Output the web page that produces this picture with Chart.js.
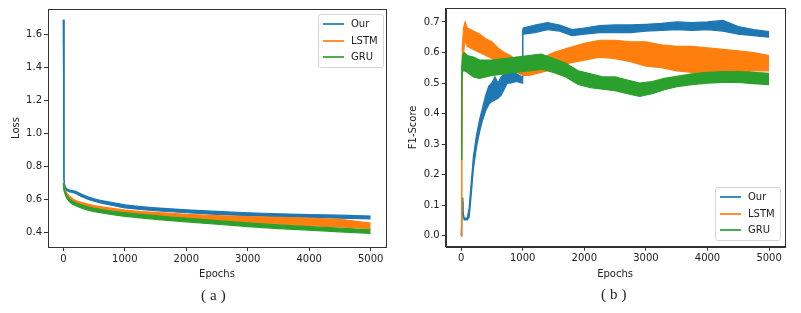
<!DOCTYPE html>
<html lang="en">
<head>
  <meta charset="UTF-8">
  <title>Loss and F1-Score curves</title>
  <script src="https://cdn.jsdelivr.net/npm/chart.js"></script>
  <style>
    body { margin: 0; background: #fff; width: 801px; height: 313px; position: relative; overflow: hidden; }
    .panel { position: absolute; top: 0; height: 290px; }
    .legend { position: absolute; background: rgba(255,255,255,0.85); border: 1px solid #d6d6d6; border-radius: 3px;
      font-family: "DejaVu Sans", sans-serif; font-size: 10px; color: #222; padding: 1px 5px 1px 4px; }
    .legend div { height: 16.5px; line-height: 16.5px; white-space: nowrap; }
    .legend span { display: inline-block; width: 21px; height: 2px; vertical-align: middle; margin-right: 7px; opacity: 0.85; }
    .caption { position: absolute; font-family: "Liberation Serif", "DejaVu Serif", serif; font-size: 15px; color: #222; letter-spacing: 4px; }
  </style>
</head>
<body>
  <div class="panel" style="left:0; width:400px;"><canvas id="lossChart" width="400" height="290"></canvas></div>
  <div class="panel" style="left:400px; width:401px;"><canvas id="f1Chart" width="401" height="290"></canvas></div>

  <div class="legend" style="left:318px; top:14px;">
    <div><span style="background:#1f77b4"></span>Our</div>
    <div><span style="background:#ff7f0e"></span>LSTM</div>
    <div><span style="background:#2ca02c"></span>GRU</div>
  </div>
  <div class="legend" style="left:715px; top:187px;">
    <div><span style="background:#1f77b4"></span>Our</div>
    <div><span style="background:#ff7f0e"></span>LSTM</div>
    <div><span style="background:#2ca02c"></span>GRU</div>
  </div>
  <div class="caption" style="left:201px; top:287px;">(a)</div>
  <div class="caption" style="left:601px; top:286px;">(b)</div>

  <script>
    // --- data (each curve is a noisy band: low / high edge) ---
    const lossEpochs = [0, 10, 25, 50, 100, 150, 200, 300, 400, 500, 600, 800, 1000, 1250, 1500, 1750, 2000, 2500, 3000, 3500, 4000, 4500, 5000];
    const lossOurLow  = [1.69, 0.72, 0.67, 0.655, 0.645, 0.642, 0.635, 0.615, 0.600, 0.588, 0.578, 0.562, 0.548, 0.538, 0.530, 0.524, 0.518, 0.508, 0.500, 0.494, 0.490, 0.485, 0.480];
    const lossOurHigh = [1.69, 0.72, 0.68, 0.665, 0.655, 0.652, 0.648, 0.630, 0.615, 0.603, 0.594, 0.580, 0.566, 0.556, 0.548, 0.542, 0.536, 0.526, 0.518, 0.512, 0.507, 0.503, 0.498];
    const lossLstmLow  = [0.690, 0.660, 0.645, 0.625, 0.600, 0.585, 0.575, 0.562, 0.552, 0.543, 0.536, 0.524, 0.513, 0.503, 0.495, 0.487, 0.480, 0.468, 0.458, 0.449, 0.440, 0.432, 0.422];
    const lossLstmHigh = [0.700, 0.675, 0.660, 0.640, 0.618, 0.603, 0.592, 0.580, 0.570, 0.562, 0.555, 0.544, 0.534, 0.525, 0.520, 0.515, 0.508, 0.500, 0.495, 0.490, 0.485, 0.478, 0.455];
    const lossGruLow  = [0.690, 0.655, 0.635, 0.610, 0.585, 0.570, 0.560, 0.545, 0.534, 0.525, 0.518, 0.506, 0.496, 0.487, 0.478, 0.470, 0.463, 0.448, 0.434, 0.422, 0.412, 0.402, 0.392];
    const lossGruHigh = [0.700, 0.670, 0.650, 0.626, 0.602, 0.588, 0.578, 0.565, 0.554, 0.545, 0.538, 0.527, 0.518, 0.508, 0.500, 0.492, 0.485, 0.470, 0.456, 0.444, 0.434, 0.424, 0.414];

    const f1OurEpochs = [0, 10, 20, 30, 50, 100, 130, 150, 175, 200, 250, 300, 350, 400, 450, 500, 550, 600, 650, 700, 750, 800, 900, 990, 1000, 1010, 1200, 1400, 1600, 1800, 2000, 2250, 2500, 2750, 3000, 3250, 3500, 3750, 4000, 4250, 4500, 4750, 5000];
    const f1OurLow  = [0, 0, 0.11, 0.07, 0.052, 0.052, 0.06, 0.10, 0.16, 0.22, 0.29, 0.34, 0.38, 0.41, 0.43, 0.44, 0.445, 0.45, 0.46, 0.48, 0.50, 0.50, 0.505, 0.50, 0.66, 0.66, 0.665, 0.675, 0.67, 0.655, 0.66, 0.665, 0.665, 0.665, 0.67, 0.672, 0.675, 0.672, 0.675, 0.67, 0.66, 0.655, 0.65];
    const f1OurHigh = [0, 0.05, 0.125, 0.08, 0.058, 0.058, 0.09, 0.14, 0.20, 0.26, 0.33, 0.38, 0.42, 0.46, 0.49, 0.50, 0.52, 0.50, 0.52, 0.53, 0.54, 0.54, 0.53, 0.52, 0.675, 0.68, 0.69, 0.698, 0.69, 0.675, 0.68, 0.688, 0.69, 0.69, 0.692, 0.695, 0.70, 0.698, 0.70, 0.705, 0.685, 0.675, 0.668];
    const f1LstmEpochs = [0, 10, 20, 40, 65, 100, 200, 300, 400, 500, 600, 700, 800, 900, 1000, 1100, 1200, 1300, 1400, 1500, 1750, 2000, 2250, 2500, 2750, 3000, 3250, 3500, 3750, 4000, 4250, 4500, 4750, 5000];
    const f1LstmLow  = [0, 0.25, 0.55, 0.60, 0.64, 0.62, 0.61, 0.60, 0.59, 0.58, 0.565, 0.555, 0.545, 0.535, 0.525, 0.525, 0.53, 0.535, 0.54, 0.55, 0.565, 0.575, 0.585, 0.58, 0.57, 0.555, 0.55, 0.54, 0.535, 0.53, 0.53, 0.535, 0.54, 0.54];
    const f1LstmHigh = [0, 0.25, 0.62, 0.68, 0.70, 0.68, 0.67, 0.66, 0.645, 0.635, 0.615, 0.60, 0.59, 0.575, 0.565, 0.565, 0.57, 0.58, 0.59, 0.60, 0.615, 0.63, 0.64, 0.64, 0.635, 0.635, 0.625, 0.62, 0.62, 0.615, 0.61, 0.605, 0.60, 0.59];
    const f1GruEpochs = [0, 10, 25, 50, 100, 200, 300, 400, 500, 700, 900, 1100, 1300, 1500, 1700, 1900, 2100, 2300, 2500, 2700, 2900, 3100, 3300, 3500, 3750, 4000, 4250, 4500, 4750, 5000];
    const f1GruLow  = [0.25, 0.50, 0.54, 0.54, 0.535, 0.52, 0.515, 0.52, 0.525, 0.53, 0.535, 0.54, 0.545, 0.535, 0.52, 0.495, 0.485, 0.48, 0.475, 0.465, 0.456, 0.465, 0.478, 0.488, 0.495, 0.50, 0.502, 0.502, 0.498, 0.495];
    const f1GruHigh = [0.25, 0.55, 0.59, 0.60, 0.59, 0.585, 0.575, 0.575, 0.575, 0.58, 0.585, 0.59, 0.595, 0.58, 0.565, 0.54, 0.53, 0.52, 0.52, 0.51, 0.50, 0.505, 0.515, 0.522, 0.53, 0.535, 0.537, 0.537, 0.535, 0.532];

    const xTicks = [0, 1000, 2000, 3000, 4000, 5000];
    const lossTicks = [0.4, 0.6, 0.8, 1.0, 1.2, 1.4, 1.6];
    const f1Ticks = [0.0, 0.1, 0.2, 0.3, 0.4, 0.5, 0.6, 0.7];

    const colors = { Our: '#1f77b4', LSTM: '#ff7f0e', GRU: '#2ca02c' };
    const tickFont = { family: 'DejaVu Sans', size: 10 };

    function band(name, epochs, low, high, order) {
      const pts = arr => epochs.map((e, i) => ({ x: e, y: arr[i] }));
      const base = { borderColor: colors[name], backgroundColor: colors[name], borderWidth: 1.2,
        pointRadius: 0, tension: 0, order: order };
      return [
        Object.assign({ label: name, data: pts(low), fill: false }, base),
        Object.assign({ label: name + ' high', data: pts(high), fill: '-1' }, base)
      ];
    }

    // matplotlib style box around the axes
    const framePlugin = {
      id: 'frame',
      afterDraw(chart) {
        const a = chart.chartArea, ctx = chart.ctx;
        ctx.save();
        ctx.strokeStyle = '#333';
        ctx.lineWidth = 1;
        ctx.strokeRect(Math.round(a.left) + 0.5, Math.round(a.top) + 0.5,
          Math.round(a.right - a.left), Math.round(a.bottom - a.top));
        ctx.restore();
      }
    };

    function makeChart(id, datasets, cfg) {
      return new Chart(document.getElementById(id), {
        type: 'line',
        data: { datasets: datasets },
        plugins: [framePlugin],
        options: {
          responsive: false,
          animation: false,
          devicePixelRatio: 1,
          layout: { padding: { left: 0, top: cfg.top, right: cfg.right, bottom: 0 } },
          plugins: { legend: { display: false }, tooltip: { enabled: false } },
          scales: {
            x: {
              type: 'linear', min: -250, max: 5250,
              afterBuildTicks: s => { s.ticks = xTicks.map(v => ({ value: v })); },
              afterFit: s => { s.height = cfg.xHeight; },
              ticks: { font: tickFont, color: '#222', padding: 2, maxRotation: 0, callback: v => String(v) },
              grid: { drawOnChartArea: false, drawTicks: true, tickLength: 4, color: '#333' },
              border: { display: true, color: '#333' },
              title: { display: true, text: 'Epochs', font: tickFont, color: '#222', padding: { top: 0, bottom: 10 } }
            },
            y: {
              type: 'linear', min: cfg.yMin, max: cfg.yMax,
              afterBuildTicks: s => { s.ticks = cfg.yTicks.map(v => ({ value: v })); },
              afterFit: s => { s.width = cfg.yWidth; },
              ticks: { font: tickFont, color: '#222', padding: 2, callback: v => v.toFixed(1) },
              grid: { drawOnChartArea: false, drawTicks: true, tickLength: 4, color: '#333' },
              border: { display: true, color: '#333' },
              title: { display: true, text: cfg.yTitle, font: tickFont, color: '#222', padding: { top: cfg.yTitlePad, bottom: 0 } }
            }
          }
        }
      });
    }

    makeChart('lossChart',
      [].concat(
        band('Our', lossEpochs, lossOurLow, lossOurHigh, 3),
        band('LSTM', lossEpochs, lossLstmLow, lossLstmHigh, 2),
        band('GRU', lossEpochs, lossGruLow, lossGruHigh, 1)
      ),
      { top: 9, right: 14, xHeight: 43, yWidth: 48, yMin: 0.31, yMax: 1.755, yTicks: lossTicks, yTitle: 'Loss', yTitlePad: 10 });

    makeChart('f1Chart',
      [].concat(
        band('Our', f1OurEpochs, f1OurLow, f1OurHigh, 3),
        band('LSTM', f1LstmEpochs, f1LstmLow, f1LstmHigh, 2),
        band('GRU', f1GruEpochs, f1GruLow, f1GruHigh, 1)
      ),
      { top: 7, right: 16.5, xHeight: 43.3, yWidth: 45.7, yMin: -0.0355, yMax: 0.7455, yTicks: f1Ticks, yTitle: 'F1-Score', yTitlePad: 7 });
  </script>
</body>
</html>
